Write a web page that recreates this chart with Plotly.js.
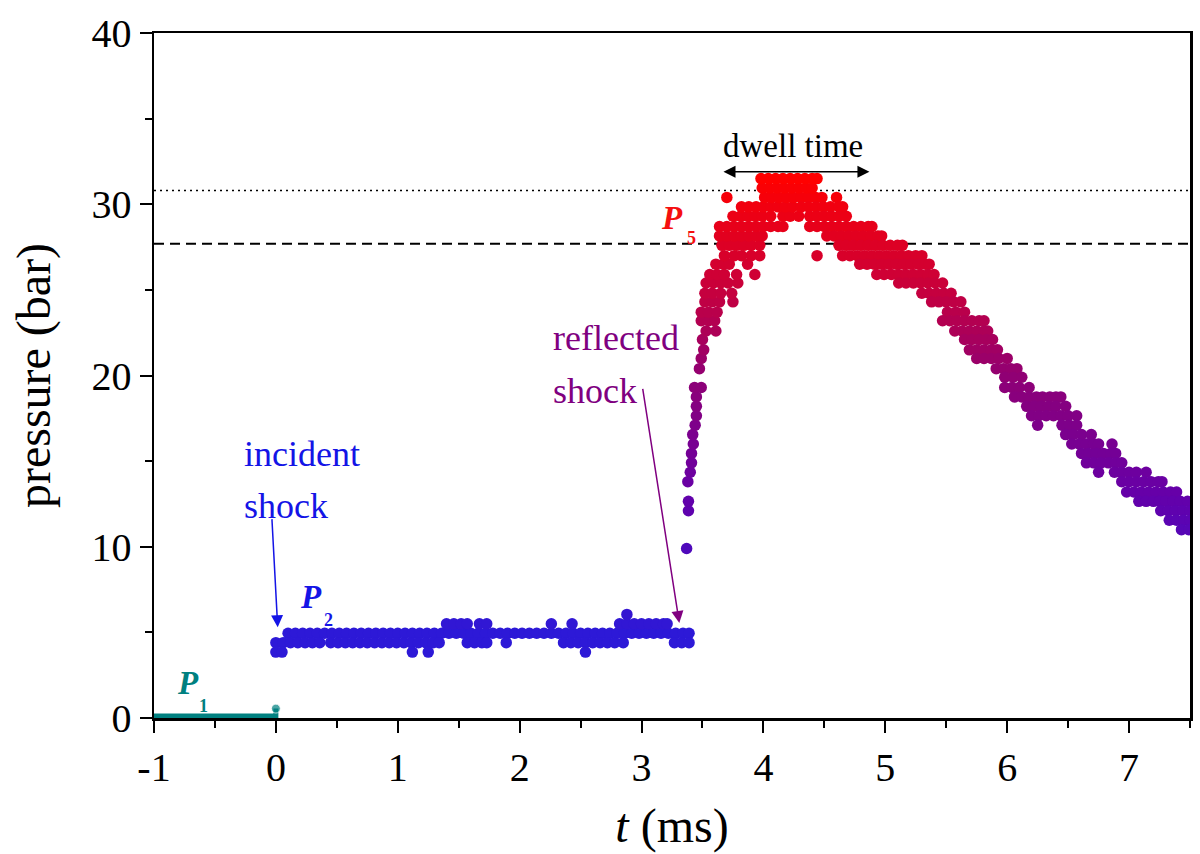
<!DOCTYPE html>
<html>
<head>
<meta charset="utf-8">
<script src="https://cdn.plot.ly/plotly-3.0.1.min.js"></script>
<style>
  body { margin: 0; background: #fff; }
  #myChart { width: 1200px; height: 854px; }
</style>
</head>
<body>
<div id="myChart"></div>
<script>
// P1: driven section before the incident shock arrives (t < 0)
var initialTime = [-1.0, 0.0, 0.0];
var initialPressure = [0.12, 0.12, 0.55];

// P2: behind the incident shock (quantised levels of the transducer)
var incidentTime = [
  // 4.95 bar
  0.10, 0.16, 0.22, 0.28, 0.34, 0.40, 0.46, 0.52, 0.58, 0.64, 0.70, 0.76, 0.82, 0.88,
  0.94, 1.00, 1.06, 1.12, 1.18, 1.24, 1.30, 1.36, 1.42, 1.48, 1.54, 1.60, 1.66, 1.72,
  1.78, 1.84, 1.90, 1.96, 2.02, 2.08, 2.14, 2.20, 2.26, 2.32, 2.38, 2.44, 2.50, 2.56,
  2.62, 2.68, 2.74, 2.80, 2.86, 2.92, 2.98, 3.04, 3.10, 3.16, 3.22, 3.28, 3.34, 3.39,
  // 4.4 bar
  0.00, 0.06, 0.12, 0.18, 0.24, 0.30, 0.36, 0.45, 0.51, 0.57, 0.63, 0.69, 0.75, 0.81,
  0.87, 0.93, 0.99, 1.05, 1.11, 1.17, 1.23, 1.29, 1.34, 1.57, 1.63, 1.69, 1.73, 1.89,
  2.36, 2.42, 2.48, 2.54, 2.60, 2.66, 2.72, 2.78, 2.85, 3.27, 3.33, 3.39,
  // 3.85 bar
  0.00, 0.05, 1.12, 1.25, 2.54,
  // 5.5 bar
  1.40, 1.46, 1.52, 1.57, 1.67, 1.73, 2.26, 2.43, 2.82, 2.88, 2.94, 3.00, 3.06, 3.12,
  3.18, 3.21,
  // 6.05 bar
  2.88
];
var incidentPressure = [
  4.95, 4.95, 4.95, 4.95, 4.95, 4.95, 4.95, 4.95, 4.95, 4.95, 4.95, 4.95, 4.95, 4.95,
  4.95, 4.95, 4.95, 4.95, 4.95, 4.95, 4.95, 4.95, 4.95, 4.95, 4.95, 4.95, 4.95, 4.95,
  4.95, 4.95, 4.95, 4.95, 4.95, 4.95, 4.95, 4.95, 4.95, 4.95, 4.95, 4.95, 4.95, 4.95,
  4.95, 4.95, 4.95, 4.95, 4.95, 4.95, 4.95, 4.95, 4.95, 4.95, 4.95, 4.95, 4.95, 4.95,
  4.4, 4.4, 4.4, 4.4, 4.4, 4.4, 4.4, 4.4, 4.4, 4.4, 4.4, 4.4, 4.4, 4.4,
  4.4, 4.4, 4.4, 4.4, 4.4, 4.4, 4.4, 4.4, 4.4, 4.4, 4.4, 4.4, 4.4, 4.4,
  4.4, 4.4, 4.4, 4.4, 4.4, 4.4, 4.4, 4.4, 4.4, 4.4, 4.4, 4.4,
  3.85, 3.85, 3.85, 3.85, 3.85,
  5.5, 5.5, 5.5, 5.5, 5.5, 5.5, 5.5, 5.5, 5.5, 5.5, 5.5, 5.5, 5.5, 5.5,
  5.5, 5.5,
  6.05
];

// P5: behind the reflected shock, rise, dwell and expansion
var reflectedTime = [
  // rise front
  3.37, 3.385, 3.385, 3.38, 3.40, 3.41, 3.41, 3.425, 3.42, 3.44, 3.45, 3.45, 3.45, 3.435,
  3.49, 3.475, 3.49, 3.51, 3.50, 3.53, 3.61,
  3.49, 3.55, 3.60,                                       // 23.2
  3.49, 3.55, 3.62,                                       // 23.7
  3.52, 3.58, 3.64, 3.75,                                 // 24.3
  3.52, 3.58, 3.65, 3.74,                                 // 24.8
  3.53, 3.59, 3.65, 3.71, 3.79,                           // 25.4
  3.56, 3.62, 3.68, 3.78, 3.93,                           // 25.9
  3.61, 3.67, 3.72, 3.87,                                 // 26.5
  3.68, 3.76, 3.82, 3.90, 3.97,                           // 27.0
  3.66, 3.72, 3.78, 3.84, 3.90, 3.97,                     // 27.6
  3.64, 3.70, 3.76, 3.82, 3.88, 3.94, 3.99,               // 28.15
  3.64, 3.70, 3.76, 3.82, 3.88, 3.94, 4.00, 4.06, 4.12, 4.16, // 28.7
  3.75, 3.81, 3.87, 3.93, 3.99, 4.06, 4.16, 4.22, 4.29,   // 29.3
  3.82, 3.88, 3.94, 4.00, 4.06, 4.12, 4.18, 4.24,         // 29.85
  3.70, 4.01, 4.07, 4.13, 4.19, 4.25, 4.31, 4.37, 4.43, 4.48, 4.60, // 30.4
  3.99, 4.05, 4.11, 4.17, 4.23, 4.29, 4.35, 4.40,         // 30.95
  3.98, 4.04, 4.10, 4.16, 4.22, 4.28, 4.34, 4.40, 4.44,   // 31.5
  // decay
  4.31, 4.37, 4.43, 4.49, 4.55, 4.62, 4.65,               // 29.85
  4.38, 4.44, 4.50, 4.56, 4.62, 4.68,                     // 29.3
  4.38, 4.44, 4.50, 4.56, 4.62, 4.68, 4.74, 4.80, 4.86, 4.89, // 28.7
  4.52, 4.58, 4.64, 4.70, 4.76, 4.82, 4.88, 4.94, 4.97,   // 28.15
  4.62, 4.68, 4.74, 4.80, 4.86, 4.92, 4.98, 5.04, 5.10, 5.14, // 27.6
  4.44, 4.65, 4.71, 4.77, 4.83, 4.89, 4.95, 5.01, 5.07, 5.13, 5.19, 5.25, 5.30, // 27.0
  4.79, 4.85, 4.91, 4.97, 5.03, 5.09, 5.15, 5.21, 5.27, 5.33, 5.36, // 26.5
  4.93, 4.99, 5.05, 5.11, 5.17, 5.23, 5.29, 5.35, 5.40,   // 25.9
  5.11, 5.17, 5.23, 5.29, 5.35, 5.41, 5.47,               // 25.4
  5.30, 5.36, 5.42, 5.48, 5.54,                           // 24.8
  5.38, 5.44, 5.50, 5.56, 5.62,                           // 24.3
  5.51, 5.58, 5.65,                                       // 23.7
  5.47, 5.53, 5.59, 5.65, 5.71, 5.77, 5.81,               // 23.2
  5.57, 5.63, 5.69, 5.75, 5.81, 5.84,                     // 22.6
  5.65, 5.71, 5.77, 5.83, 5.88,                           // 22.1
  5.69, 5.75, 5.81, 5.87, 5.92,                           // 21.5
  5.75, 5.81, 5.87, 5.93, 6.00,                           // 21.0
  5.91, 5.97, 6.03, 6.08,                                 // 20.4
  5.98, 6.05, 6.12,                                       // 19.9
  5.98, 6.04, 6.10, 6.18,                                 // 19.3
  6.06, 6.12, 6.18, 6.24, 6.29, 6.35, 6.40, 6.44,         // 18.75
  6.16, 6.22, 6.28, 6.34, 6.40, 6.48,                     // 18.2
  6.20, 6.26, 6.32, 6.38, 6.44, 6.50, 6.57,               // 17.65
  6.25, 6.45, 6.51, 6.57,                                 // 17.1
  6.48, 6.54, 6.61, 6.69,                                 // 16.55
  6.53, 6.59, 6.65, 6.71, 6.75, 6.86,                     // 16.0
  6.61, 6.67, 6.73, 6.79, 6.85, 6.89,                     // 15.45
  6.65, 6.71, 6.77, 6.83, 6.89, 6.94,                     // 14.9
  6.75, 6.88, 6.94, 7.00, 7.06, 7.14,                     // 14.35
  6.94, 7.00, 7.06, 7.12, 7.18, 7.24, 7.27,               // 13.8
  6.98, 7.04, 7.10, 7.16, 7.22, 7.28, 7.34, 7.39,         // 13.2
  7.08, 7.14, 7.20, 7.25, 7.30, 7.36, 7.42, 7.48,         // 12.65
  7.26, 7.32, 7.38, 7.44, 7.50,                           // 12.1
  7.33, 7.39, 7.45, 7.50,                                 // 11.55
  7.43, 7.49                                              // 11.0
];
var reflectedPressure = [
  9.9, 12.1, 12.65, 13.8, 14.35, 14.9, 15.45, 16.0, 16.55, 17.1, 17.65, 18.2, 18.75, 19.3,
  19.3, 20.4, 21.0, 21.5, 22.1, 22.6, 22.6,
  23.2, 23.2, 23.2,
  23.7, 23.7, 23.7,
  24.3, 24.3, 24.3, 24.3,
  24.8, 24.8, 24.8, 24.8,
  25.4, 25.4, 25.4, 25.4, 25.4,
  25.9, 25.9, 25.9, 25.9, 25.9,
  26.5, 26.5, 26.5, 26.5,
  27.0, 27.0, 27.0, 27.0, 27.0,
  27.6, 27.6, 27.6, 27.6, 27.6, 27.6,
  28.15, 28.15, 28.15, 28.15, 28.15, 28.15, 28.15,
  28.7, 28.7, 28.7, 28.7, 28.7, 28.7, 28.7, 28.7, 28.7, 28.7,
  29.3, 29.3, 29.3, 29.3, 29.3, 29.3, 29.3, 29.3, 29.3,
  29.85, 29.85, 29.85, 29.85, 29.85, 29.85, 29.85, 29.85,
  30.4, 30.4, 30.4, 30.4, 30.4, 30.4, 30.4, 30.4, 30.4, 30.4, 30.4,
  30.95, 30.95, 30.95, 30.95, 30.95, 30.95, 30.95, 30.95,
  31.5, 31.5, 31.5, 31.5, 31.5, 31.5, 31.5, 31.5, 31.5,
  29.85, 29.85, 29.85, 29.85, 29.85, 29.85, 29.85,
  29.3, 29.3, 29.3, 29.3, 29.3, 29.3,
  28.7, 28.7, 28.7, 28.7, 28.7, 28.7, 28.7, 28.7, 28.7, 28.7,
  28.15, 28.15, 28.15, 28.15, 28.15, 28.15, 28.15, 28.15, 28.15,
  27.6, 27.6, 27.6, 27.6, 27.6, 27.6, 27.6, 27.6, 27.6, 27.6,
  27.0, 27.0, 27.0, 27.0, 27.0, 27.0, 27.0, 27.0, 27.0, 27.0, 27.0, 27.0, 27.0,
  26.5, 26.5, 26.5, 26.5, 26.5, 26.5, 26.5, 26.5, 26.5, 26.5, 26.5,
  25.9, 25.9, 25.9, 25.9, 25.9, 25.9, 25.9, 25.9, 25.9,
  25.4, 25.4, 25.4, 25.4, 25.4, 25.4, 25.4,
  24.8, 24.8, 24.8, 24.8, 24.8,
  24.3, 24.3, 24.3, 24.3, 24.3,
  23.7, 23.7, 23.7,
  23.2, 23.2, 23.2, 23.2, 23.2, 23.2, 23.2,
  22.6, 22.6, 22.6, 22.6, 22.6, 22.6,
  22.1, 22.1, 22.1, 22.1, 22.1,
  21.5, 21.5, 21.5, 21.5, 21.5,
  21.0, 21.0, 21.0, 21.0, 21.0,
  20.4, 20.4, 20.4, 20.4,
  19.9, 19.9, 19.9,
  19.3, 19.3, 19.3, 19.3,
  18.75, 18.75, 18.75, 18.75, 18.75, 18.75, 18.75, 18.75,
  18.2, 18.2, 18.2, 18.2, 18.2, 18.2,
  17.65, 17.65, 17.65, 17.65, 17.65, 17.65, 17.65,
  17.1, 17.1, 17.1, 17.1,
  16.55, 16.55, 16.55, 16.55,
  16.0, 16.0, 16.0, 16.0, 16.0, 16.0,
  15.45, 15.45, 15.45, 15.45, 15.45, 15.45,
  14.9, 14.9, 14.9, 14.9, 14.9, 14.9,
  14.35, 14.35, 14.35, 14.35, 14.35, 14.35,
  13.8, 13.8, 13.8, 13.8, 13.8, 13.8, 13.8,
  13.2, 13.2, 13.2, 13.2, 13.2, 13.2, 13.2, 13.2,
  12.65, 12.65, 12.65, 12.65, 12.65, 12.65, 12.65, 12.65,
  12.1, 12.1, 12.1, 12.1, 12.1,
  11.55, 11.55, 11.55, 11.55,
  11.0, 11.0
];

// tick labels (hyphen minus as in the original)
var timeTicks = [-1, 0, 1, 2, 3, 4, 5, 6, 7];
var timeTickText = ['-1', '0', '1', '2', '3', '4', '5', '6', '7'];
var pressureTicks = [0, 10, 20, 30, 40];

// reference levels (bar)
var p5Level = 27.7;        // dashed
var peakLevel = 30.8;      // dotted
var dwellStart = 3.66, dwellEnd = 4.87, dwellLevel = 31.9;

var serif = '"Liberation Serif", serif';
var pressureScale = [
  [0, 'rgb(45,25,215)'],
  [0.3, 'rgb(100,0,170)'],
  [0.57, 'rgb(145,0,115)'],
  [0.76, 'rgb(200,0,60)'],
  [1, 'rgb(255,0,0)']
];

function pressureMarker(values) {
  return {
    color: values,
    colorscale: pressureScale,
    cmin: 4.9,
    cmax: 31.5,
    size: 11.5,
    symbol: 'circle',
    line: {width: 0}
  };
}

var data = [
  {
    x: initialTime, y: initialPressure,
    type: 'scatter', mode: 'lines+markers',
    line: {color: 'rgb(0,128,128)', width: 5},
    marker: {color: 'rgb(0,128,128)', size: [0, 0, 9]},
    hoverinfo: 'skip'
  },
  {
    x: incidentTime, y: incidentPressure,
    type: 'scatter', mode: 'markers',
    marker: pressureMarker(incidentPressure),
    hoverinfo: 'skip'
  },
  {
    x: reflectedTime, y: reflectedPressure,
    type: 'scatter', mode: 'markers',
    marker: pressureMarker(reflectedPressure),
    hoverinfo: 'skip'
  }
];

function label(txt, x, y, color, size, anchor) {
  return {
    x: x, y: y, xref: 'x', yref: 'y', text: txt, showarrow: false,
    xanchor: anchor || 'left', yanchor: 'middle',
    font: {family: serif, size: size, color: color}
  };
}

function arrow(x, y, ax, ay, color, side) {
  return {
    x: x, y: y, ax: ax, ay: ay, xref: 'x', yref: 'y', axref: 'x', ayref: 'y',
    text: '', showarrow: true, arrowhead: 2, arrowsize: 1.6, arrowwidth: 1.5,
    arrowcolor: color, arrowside: side || 'end', standoff: 0, startstandoff: 0
  };
}

var blue = 'rgb(20,20,230)';
var purple = 'rgb(128,0,128)';
var red = 'rgb(245,15,15)';
var teal = 'rgb(0,128,128)';

var annotations = [
  label('incident', -0.28, 15.4, blue, 36),
  label('shock', -0.28, 12.4, blue, 36),
  arrow(0.015, 5.3, -0.033, 11.7, blue),
  label('reflected', 2.26, 22.2, purple, 36),
  label('shock', 2.26, 19.1, purple, 36),
  arrow(3.31, 5.55, 3.008, 19.3, purple),
  label('dwell time', 4.24, 33.4, 'black', 33, 'center'),
  arrow(dwellEnd, dwellLevel, dwellStart, dwellLevel, 'black', 'end+start'),
  label('<b><i>P</i></b>', -0.72, 2.04, teal, 33, 'center'),
  label('<b>1</b>', -0.59, 0.70, teal, 18, 'center'),
  label('<b><i>P</i></b>', 0.29, 7.07, blue, 33, 'center'),
  label('<b>2</b>', 0.43, 5.72, blue, 18, 'center'),
  label('<b><i>P</i></b>', 3.25, 29.2, red, 33, 'center'),
  label('<b>5</b>', 3.41, 28.04, red, 18, 'center')
];

var shapes = [
  {type: 'line', xref: 'paper', yref: 'y', x0: 0, x1: 1, y0: peakLevel, y1: peakLevel,
   line: {color: 'black', width: 1.5, dash: '2px,4px'}, layer: 'below'},
  {type: 'line', xref: 'paper', yref: 'y', x0: 0, x1: 1, y0: p5Level, y1: p5Level,
   line: {color: 'black', width: 2, dash: '10px,6px'}, layer: 'below'}
];

var axisCommon = {
  showgrid: false,
  zeroline: false,
  showline: true,
  linecolor: 'black',
  linewidth: 2.5,
  mirror: true,
  ticks: 'outside',
  ticklen: 12,
  tickwidth: 2,
  tickcolor: 'black',
  tickfont: {family: serif, size: 40, color: 'black'}
};

var layout = {
  width: 1200,
  height: 854,
  paper_bgcolor: 'white',
  plot_bgcolor: 'white',
  font: {family: serif, color: 'black'},
  margin: {l: 154, r: 10, t: 33, b: 136, autoexpand: false},
  showlegend: false,
  xaxis: Object.assign({}, axisCommon, {
    range: [-1, 7.5],
    tickmode: 'array',
    tickvals: timeTicks,
    ticktext: timeTickText,
    minor: {dtick: 0.5, tick0: 0, ticks: 'outside', ticklen: 7, tickwidth: 2, tickcolor: 'black', showgrid: false},
    title: {text: '<i>t</i> (ms)', font: {family: serif, size: 48, color: 'black'}, standoff: 20}
  }),
  yaxis: Object.assign({}, axisCommon, {
    range: [0, 40],
    tickmode: 'array',
    tickvals: pressureTicks,
    minor: {dtick: 5, tick0: 0, ticks: 'outside', ticklen: 7, tickwidth: 2, tickcolor: 'black', showgrid: false},
    title: {text: 'pressure (bar)', font: {family: serif, size: 48, color: 'black'}, standoff: 26}
  }),
  annotations: annotations,
  shapes: shapes
};

Plotly.newPlot('myChart', data, layout, {displayModeBar: false, staticPlot: true});
</script>
</body>
</html>
